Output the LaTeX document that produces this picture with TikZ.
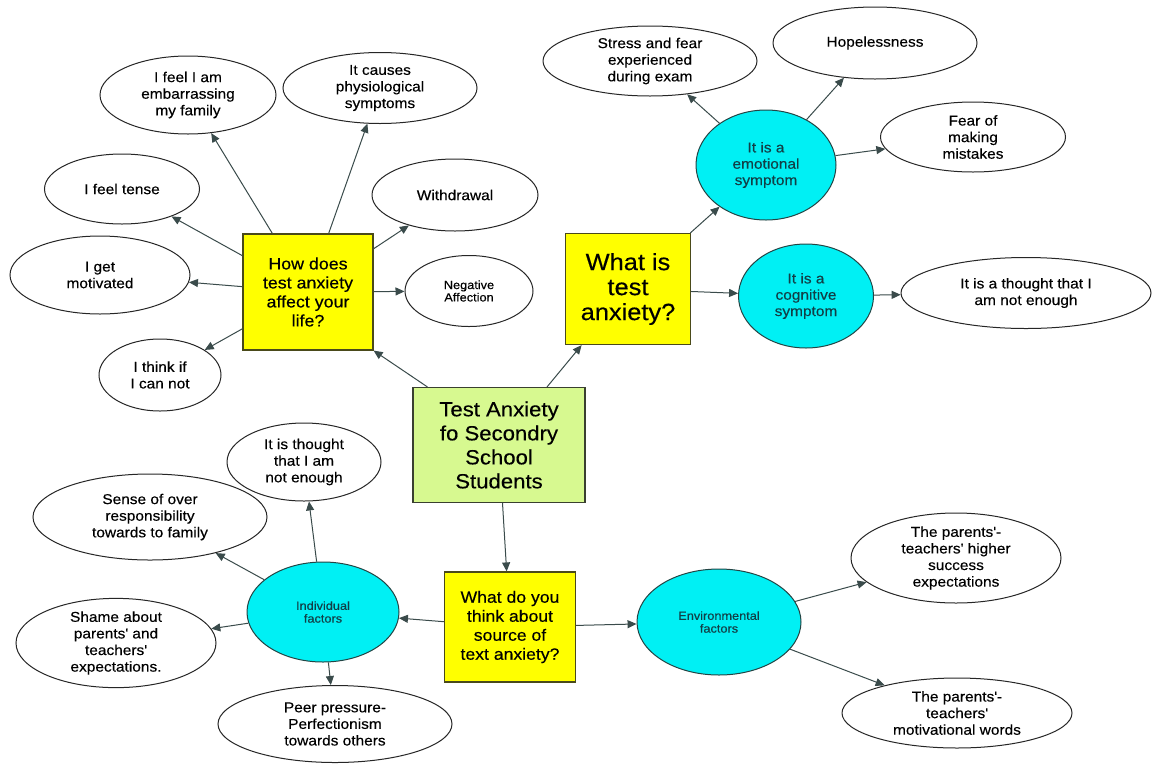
\documentclass[tikz,border=0pt]{standalone}
\usepackage{fontspec}
\newfontfamily\lib{Liberation Sans}[FakeStretch=1.08,FakeBold=0.3]
\usetikzlibrary{shapes.geometric,arrows.meta}
\definecolor{qyellow}{HTML}{FFFF00}
\definecolor{mgreen}{HTML}{D7F990}
\definecolor{ccyan}{HTML}{00F0F4}
\definecolor{qborder}{HTML}{4A4A1A}
\definecolor{gborder}{HTML}{3A4030}
\definecolor{linec}{HTML}{3A4B4B}
\definecolor{ctext}{HTML}{123F46}
\definecolor{cborder}{HTML}{234444}
\tikzset{
  every node/.style={font=\lib},
  ell/.style={ellipse, draw=black!85, line width=1pt, fill=white, align=center, inner sep=0pt,
    font=\lib\fontsize{14.3}{16.6}\selectfont},
  smallell/.style={ell, font=\lib\fontsize{11.8}{12.4}\selectfont},
  qbox/.style={rectangle, draw=qborder, fill=qyellow, line width=1.2pt, align=center, inner sep=0pt,
    font=\lib\fontsize{16.5}{19}\selectfont},
  mainbox/.style={rectangle, draw=gborder, fill=mgreen, line width=1.2pt, align=center, inner sep=0pt,
    font=\lib\fontsize{20.5}{24}\selectfont},
  circ/.style={ellipse, draw=cborder, fill=ccyan, line width=1pt, align=center, inner sep=0pt,
    text=ctext, font=\lib\fontsize{14.3}{16.3}\selectfont},
  smallcirc/.style={circ, font=\lib\fontsize{11.8}{12.8}\selectfont},
  arr/.style={draw=linec, line width=1pt, -{Triangle[length=9pt,width=8pt]}},
}
\begin{document}
\begin{tikzpicture}[x=1pt,y=-1pt]
\useasboundingbox[fill=white] (0,0) rectangle (1154,764);

% central
\node[mainbox, minimum width=172pt, minimum height=115pt] (main) at (499,445) {Test Anxiety\\fo Secondry\\School\\Students};

% question boxes
\node[qbox, minimum width=130pt, minimum height=116pt] (how) at (308,292) {How does\\test anxiety\\affect your\\life?};
\node[qbox, minimum width=125pt, minimum height=111pt, font=\lib\fontsize{23.5}{25}\selectfont] (what) at (628,289) {What is\\test\\anxiety?};
\node[qbox, minimum width=131pt, minimum height=110pt, font=\lib\fontsize{16.3}{19}\selectfont] (src) at (510,627) {What do you\\think about\\source of\\text anxiety?};

% how-does leaves
\node[ell, minimum width=176pt, minimum height=78pt] (emb) at (188,95) {I feel I am\\embarrassing\\my family};
\node[ell, minimum width=194pt, minimum height=71pt] (phys) at (380,88) {It causes\\physiological\\symptoms};
\node[ell, minimum width=155pt, minimum height=70pt] (tense) at (122,189) {I feel tense};
\node[ell, minimum width=166pt, minimum height=72pt] (withd) at (455,195) {Withdrawal};
\node[ell, minimum width=180pt, minimum height=78pt] (motiv) at (100,275) {I get\\motivated};
\node[smallell, minimum width=128pt, minimum height=71pt] (neg) at (469,291) {Negative\\Affection};
\node[ell, minimum width=122pt, minimum height=72pt] (think) at (160,375) {I think if\\I can not};

% what-is branch
\node[circ, minimum width=140pt, minimum height=110pt] (emo) at (766,165) {It is a\\emotional\\symptom};
\node[circ, minimum width=135pt, minimum height=104pt] (cog) at (806,296) {It is a\\cognitive\\symptom};
\node[ell, minimum width=214pt, minimum height=70pt] (stress) at (650,61) {Stress and fear\\experienced\\during exam};
\node[ell, minimum width=204pt, minimum height=72pt] (hope) at (875,43) {Hopelessness};
\node[ell, minimum width=185pt, minimum height=70pt] (fear) at (973,137) {Fear of\\making\\mistakes};
\node[ell, minimum width=250pt, minimum height=71pt] (thought) at (1026,293) {It is a thought that I\\am not enough};

% source branch
\node[smallcirc, minimum width=152pt, minimum height=100pt] (indiv) at (323,612) {Individual\\factors};
\node[smallcirc, minimum width=164pt, minimum height=106pt] (env) at (719,622) {Environmental\\factors};
\node[ell, minimum width=154pt, minimum height=78pt] (thnot) at (304,462) {It is thought\\that I am\\not enough};
\node[ell, minimum width=234pt, minimum height=86pt] (sense) at (150,517) {Sense of over\\responsibility\\towards to family};
\node[ell, minimum width=200pt, minimum height=86pt] (shame) at (116,643) {Shame about\\parents\textquotesingle{} and\\teachers\textquotesingle\\expectations.};
\node[ell, minimum width=234pt, minimum height=77pt] (peer) at (335,724) {Peer pressure-\\Perfectionism\\towards others};
\node[ell, minimum width=210pt, minimum height=90pt] (high) at (956,558) {The parents\textquotesingle-\\teachers\textquotesingle{} higher\\success\\expectations};
\node[ell, minimum width=230pt, minimum height=70pt] (words) at (957,713) {The parents\textquotesingle-\\teachers\textquotesingle\\motivational words};

% connectors
\draw[arr] ([xshift=15pt]main.north west) -- (how.south east);
\draw[arr] (main) -- (what);
\draw[arr] (main) -- (src);

\draw[arr] (how) -- (emb);
\draw[arr] (how) -- (phys);
\draw[arr] (how) -- (tense);
\draw[arr] (how) -- (withd);
\draw[arr] (how) -- (motiv);
\draw[arr] (how) -- (neg);
\draw[arr] (how) -- (think);

\draw[arr] (what) -- (emo);
\draw[arr] (what) -- (cog);
\draw[arr] (emo) -- (stress);
\draw[arr] (emo) -- (hope);
\draw[arr] (emo) -- (fear);
\draw[arr] (cog) -- (thought);

\draw[arr] (src) -- (indiv);
\draw[arr] (src) -- (env);
\draw[arr] (indiv) -- (thnot);
\draw[arr] (indiv) -- (sense);
\draw[arr] (indiv) -- (shame);
\draw[arr] (indiv) -- (peer);
\draw[arr] (env) -- (high);
\draw[arr] (env) -- (words);
\end{tikzpicture}
\end{document}
